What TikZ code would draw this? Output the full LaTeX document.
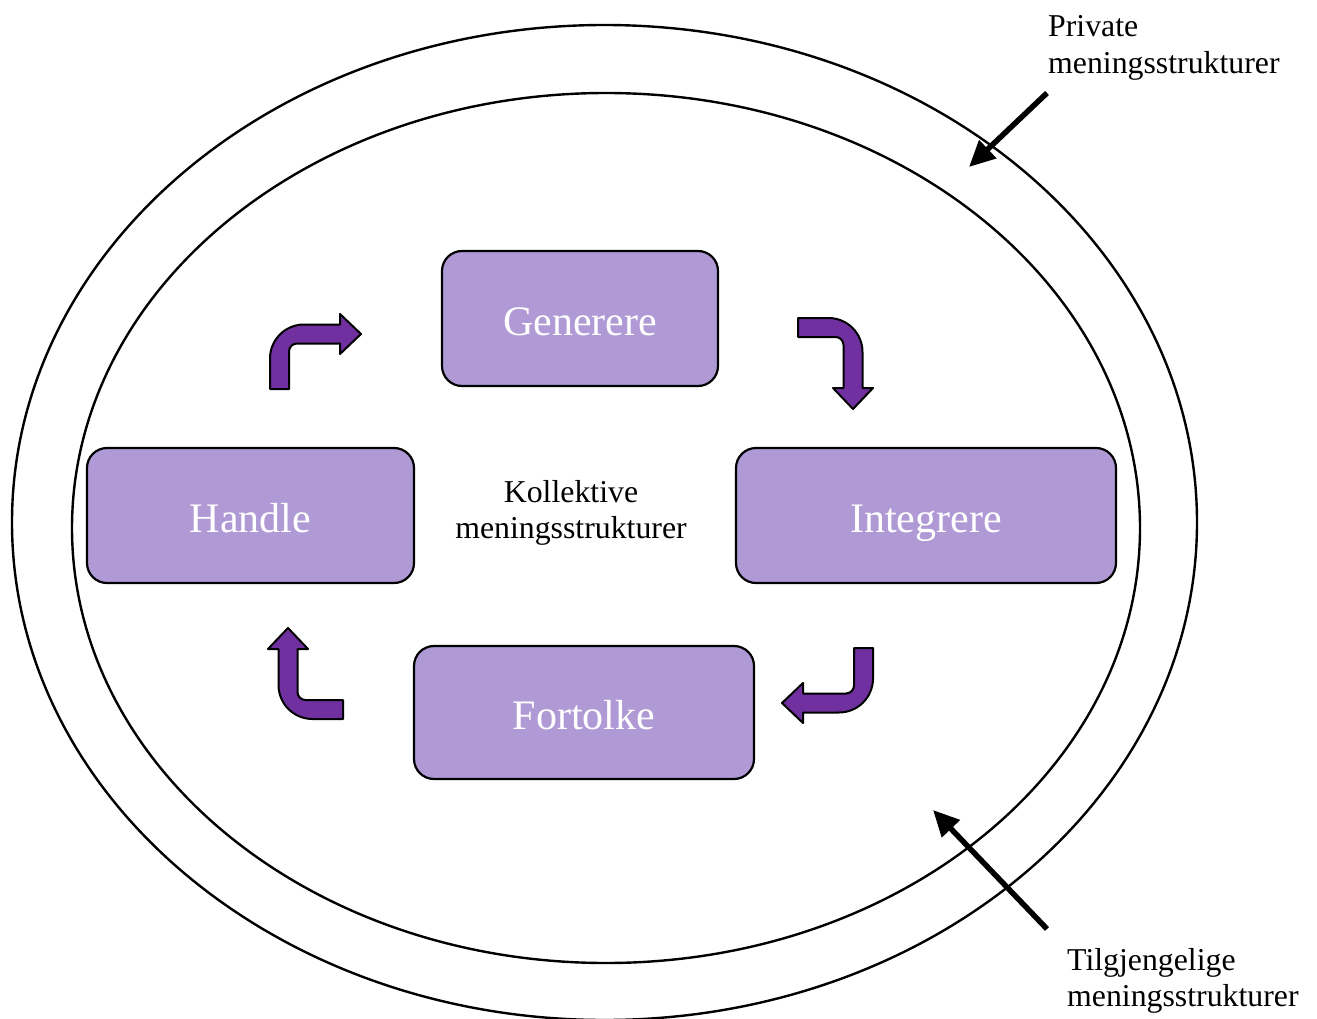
\documentclass[tikz,border=0pt]{standalone}
\usepackage{fontspec}
\setmainfont{Liberation Serif}
\usetikzlibrary{arrows.meta}

\definecolor{boxfill}{HTML}{B09AD6}
\definecolor{turnfill}{HTML}{7030A0}

\tikzset{
  stagebox/.style={draw=black, line width=2.2pt, fill=boxfill, rounded corners=20pt,
    text=white, font=\fontsize{42}{48}\selectfont, inner sep=0pt,
    text height=40pt, text depth=7pt},
  ring/.style={draw=black, line width=2.4pt},
  label/.style={font=\fontsize{31.8}{36.5}\selectfont, inner sep=0pt},
  pointer/.style={draw=black, line width=5.5pt,
    -{Triangle[length=26pt,width=24pt]}},
  turnarrow/.style={draw=black, line width=2pt, fill=turnfill, line join=round},
  % bent arrow: shaft rises from the origin, then turns right
  bent/.pic={
    \path[turnarrow] (0,0) -- (0,-30.5)
      .. controls (0,-49.3) and (15.2,-64.5) .. (34,-64.5)
      -- (70,-64.5) -- (70,-75) -- (91,-55) -- (70,-35) -- (70,-45.5)
      -- (27,-45.5) .. controls (22.6,-45.5) and (19,-41.9) .. (19,-37.5)
      -- (19,0) -- cycle;
  }
}

\begin{document}
\begin{tikzpicture}[x=1pt, y=-1pt]
  \useasboundingbox (0,0) rectangle (1317,1019);

  % the two surrounding rings
  \draw[ring] (604.5,522.5) ellipse [x radius=592.5, y radius=497.5];
  \draw[ring] (606,528) ellipse [x radius=534, y radius=435];

  % the four stages
  \node[stagebox, minimum width=276pt, minimum height=135pt] (gen) at (580,318.5) {Generere};
  \node[stagebox, minimum width=327pt, minimum height=135pt] (han) at (250.5,515.5) {Handle};
  \node[stagebox, minimum width=380pt, minimum height=135pt] (int) at (926,515.5) {Integrere};
  \node[stagebox, minimum width=340pt, minimum height=133pt] (fort) at (584,712.5) {Fortolke};

  % centre text
  \node[label, align=center] (koll) at (571,513) {Kollektive\\meningsstrukturer};

  % cycle arrows between the stages
  \pic at (270,389) {bent};
  \pic[rotate=-90] at (798,318) {bent};
  \pic[rotate=180] at (873,648) {bent};
  \pic[rotate=90] at (343,719) {bent};

  % outer labels with pointers
  \node[label, align=left, anchor=west] (priv) at (1048,48) {Private\\meningsstrukturer};
  \node[label, align=left, anchor=west] (tilg) at (1067,981) {Tilgjengelige\\meningsstrukturer};

  \coordinate (privA) at (1047,93);
  \coordinate (privB) at (969,167);
  \coordinate (tilgA) at (1047,929);
  \coordinate (tilgB) at (933,810);
  \draw[pointer] (privA) -- (privB);
  \draw[pointer] (tilgA) -- (tilgB);
\end{tikzpicture}
\end{document}
